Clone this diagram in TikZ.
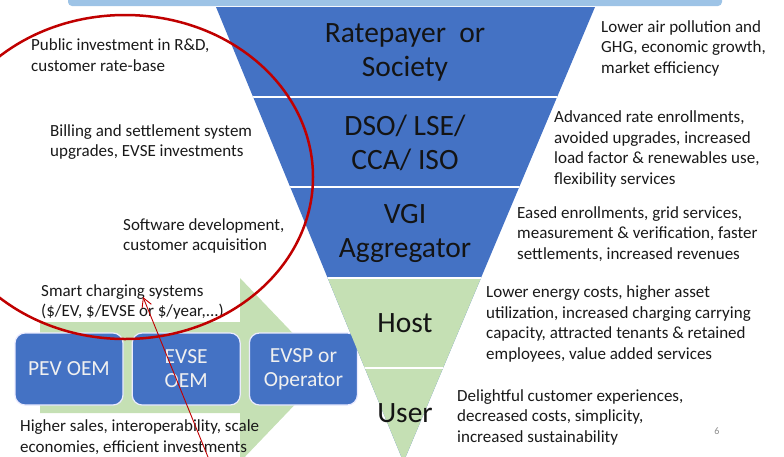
\documentclass[tikz,border=0pt]{standalone}
\usepackage{fontspec}
\setmainfont{Carlito}
\usepackage{xcolor}
\usepackage{tikz}
\usetikzlibrary{positioning,arrows.meta}
\definecolor{vgiblue}{RGB}{68,114,196}
\definecolor{vgigreen}{RGB}{197,224,180}
\definecolor{barblue}{RGB}{157,195,230}
\definecolor{ringred}{RGB}{192,0,0}

\begin{document}
\begin{tikzpicture}[
        x=1pt, y=-1pt,
        band/.style={font=\fontsize{29.5}{34}\selectfont, text=black!92, align=center, inner sep=0pt},
        note/.style={font=\fontsize{17}{20.5}\selectfont, text=black!90, align=left, anchor=west, inner sep=0pt},
        actor/.style={rectangle, rounded corners=10pt, draw=blue!8!white, line width=1.2pt, fill=vgiblue,
            text=white!94!black, font=\fontsize{21.5}{24}\selectfont, align=center,
            minimum width=108pt, minimum height=72pt, inner sep=2pt},
    ]
        \useasboundingbox (0,0) rectangle (784,456);
        \clip (0,0) rectangle (784,456);

        % bar along the top
        \fill[barblue, rounded corners=4pt] (68,-12) rectangle (722,6);

        % big arrow behind the value chain
        \fill[vgigreen] (40,322) -- (240,322) -- (240,278) -- (328,370) -- (240,462) -- (240,413) -- (40,413) -- cycle;

        \node[actor] (pev) at (69,369) {PEV OEM};
        \node[actor, right=8pt of pev] (evse) {EVSE\\OEM};
        \node[actor, right=8pt of evse] (evsp) {EVSP or\\Operator};

        % funnel
        \fill[vgiblue] (216,7) -- (595,7) -- (403.5,462) -- cycle;
        \begin{scope}
            \clip (216,7) -- (595,7) -- (403.5,462) -- cycle;
            \fill[vgigreen] (200,278) rectangle (600,470);
            \foreach \y in {97,187,278,368}
                \draw[white, line width=2pt] (200,\y) -- (600,\y);
        \end{scope}

        \node[band] (society) at (405,52) {Ratepayer \ or\\Society};
        \node[band] (dso) at (405,143) {DSO/ LSE/\\CCA/ ISO};
        \node[band] (vgi) at (405,233) {VGI\\Aggregator};
        \node[band] (host) at (405,323) {Host};
        \node[band] (user) at (405,413) {User};

        % costs, left side
        \node[note] (rnd) at (31,55) {Public investment in R\&D,\\customer rate-base};
        \node[note] (billing) at (50,142) {Billing and settlement system\\upgrades, EVSE investments};
        \node[note] (software) at (123,236) {Software development,\\customer acquisition};
        \node[note] (smart) at (41,302) {Smart charging systems\\(\$/EV, \$/EVSE or \$/year,...)};
        \node[note] (sales) at (20,437) {Higher sales, interoperability, scale\\economies, efficient investments};

        % benefits, right side
        \node[note] (air) at (601,48) {Lower air pollution and\\GHG, economic growth,\\market efficiency};
        \node[note] (rate) at (554,149) {Advanced rate enrollments,\\avoided upgrades, increased\\load factor \& renewables use,\\flexibility services};
        \node[note] (eased) at (517,234) {Eased enrollments, grid services,\\measurement \& verification, faster\\settlements, increased revenues};
        \node[note] (energy) at (486,324) {Lower energy costs, higher asset\\utilization, increased charging carrying\\capacity, attracted tenants \& retained\\employees, value added services};
        \node[note] (delight) at (457,417) {Delightful customer experiences,\\decreased costs, simplicity,\\increased sustainability};

        \node[font=\fontsize{10}{12}\selectfont, text=black!45, inner sep=0pt] (page) at (717,431) {6};

        % red ring and pointer
        \draw[ringred, line width=2.5pt] (125,177) ellipse [x radius=188, y radius=162];
        \coordinate (tail) at (210,462);
        \coordinate (tip) at (143,297);
        \draw[ringred, line width=0.9pt, -{Straight Barb[length=9pt, width=10pt]}] (tail) -- (tip);
    \end{tikzpicture}
\end{document}
